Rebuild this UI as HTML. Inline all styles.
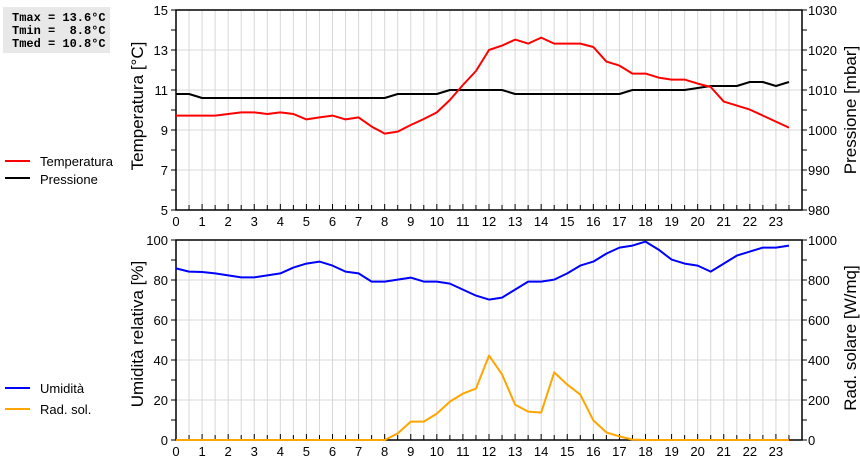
<!DOCTYPE html>
<html><head><meta charset="utf-8"><style>
html,body{margin:0;padding:0;background:#fff;width:860px;height:460px;overflow:hidden}
svg{display:block;font-family:"Liberation Sans",Arial,sans-serif}
</style></head><body>
<svg id="c" width="860" height="460">
<rect x="3" y="7" width="107" height="46" fill="#e8e8e8"/>
<text x="12" y="21" font-family="Liberation Mono,monospace" font-weight="bold" font-size="12" xml:space="preserve">Tmax = 13.6°C</text>
<text x="12" y="34" font-family="Liberation Mono,monospace" font-weight="bold" font-size="12" xml:space="preserve">Tmin =  8.8°C</text>
<text x="12" y="47" font-family="Liberation Mono,monospace" font-weight="bold" font-size="12" xml:space="preserve">Tmed = 10.8°C</text>
<g>
<line x1="5" y1="161" x2="30" y2="161" stroke="#f00" stroke-width="2"/><text x="40" y="166" font-size="13">Temperatura</text>
<line x1="5" y1="178" x2="30" y2="178" stroke="#000" stroke-width="2"/><text x="40" y="184" font-size="13">Pressione</text>
</g>
<g>
<line x1="5" y1="388" x2="30" y2="388" stroke="#00f" stroke-width="2"/><text x="40" y="393" font-size="13">Umidità</text>
<line x1="5" y1="409" x2="30" y2="409" stroke="#ffa500" stroke-width="2"/><text x="40" y="414" font-size="13">Rad. sol.</text>
</g>
<text transform="translate(143,106) rotate(-90)" text-anchor="middle" font-size="17">Temperatura [°C]</text>
<text transform="translate(856,110) rotate(-90)" text-anchor="middle" font-size="17">Pressione [mbar]</text>
<text transform="translate(143,334) rotate(-90)" text-anchor="middle" font-size="17">Umidità relativa [%]</text>
<text transform="translate(856,338) rotate(-90)" text-anchor="middle" font-size="17">Rad. solare [W/mq]</text>
</svg>
<script>
const temp=[9.72,9.72,9.72,9.72,9.8,9.88,9.88,9.8,9.88,9.8,9.53,9.63,9.72,9.53,9.63,9.17,8.82,8.92,9.25,9.55,9.88,10.5,11.25,11.95,13.0,13.22,13.52,13.32,13.62,13.32,13.32,13.32,13.15,12.42,12.22,11.82,11.82,11.62,11.52,11.52,11.32,11.15,10.42,10.22,10.02,9.72,9.42,9.12];
const press=[1009,1009,1008,1008,1008,1008,1008,1008,1008,1008,1008,1008,1008,1008,1008,1008,1008,1009,1009,1009,1009,1010,1010,1010,1010,1010,1009,1009,1009,1009,1009,1009,1009,1009,1009,1010,1010,1010,1010,1010,1010.5,1011,1011,1011,1012,1012,1011,1012];
const hum=[85.8,84.2,84,83.3,82.3,81.3,81.3,82.3,83.3,86.2,88.2,89.2,87.2,84.2,83.3,79.2,79.2,80.2,81.2,79.2,79.2,78.2,75.2,72.2,70.2,71.2,75.2,79.2,79.2,80.2,83.3,87.2,89.2,93.2,96.2,97.2,99.2,95.2,90.2,88.2,87.2,84.2,88.2,92.2,94.2,96.2,96.2,97.2];
const rad=[0,0,0,0,0,0,0,0,0,0,0,0,0,0,0,0,0,33,92,92,132,192,232,257,422,328,177,142,137,338,277,227,98,38,18,2,0,0,0,0,0,0,0,0,0,0,0,0];
const hourLabels=["0","1","2","3","4","5","6","7","8","9","10","11","12","13","14","15","16","17","18","19","20","21","22","23"];
const tempTicks=[5,7,9,11,13,15];
const pressTicks=[980,990,1000,1010,1020,1030];
const humTicks=[0,20,40,60,80,100];
const radTicks=[0,200,400,600,800,1000];
const NS="http://www.w3.org/2000/svg",svg=document.getElementById('c');
const L=176,R=802;
const x=h=>L+(R-L)*h/24;
function mk(t,a,p){const e=document.createElementNS(NS,t);for(const k in a)e.setAttribute(k,a[k]);(p||svg).appendChild(e);return e;}
function panel(top,bot,lmin,lmax,lt,rmin,rmax,rt,name){
 const g=mk('g',{});
 
 
 const yl=v=>bot-(bot-top)*(v-lmin)/(lmax-lmin);
 const yr=v=>bot-(bot-top)*(v-rmin)/(rmax-rmin);
 for(let i=1;i<48;i++)mk('line',{x1:x(i/2),x2:x(i/2),y1:top,y2:bot,stroke:'#d8d8d8','stroke-width':1},g);
 for(let i=1;i<lt.length-1;i++)mk('line',{x1:L,x2:R,y1:yl(lt[i]),y2:yl(lt[i]),stroke:'#d8d8d8','stroke-width':1},g);
 for(let i=0;i<lt.length;i++){
  const t=mk('text',{x:168,y:yl(lt[i])+5,'text-anchor':'end','font-size':13},g);t.textContent=lt[i];
  
  
  mk('line',{x1:171,x2:L,y1:yl(lt[i]),y2:yl(lt[i]),stroke:'#000'},g);
  if(i<lt.length-1){const m=(lt[i]+lt[i+1])/2;mk('line',{x1:171,x2:L,y1:yl(m),y2:yl(m),stroke:'#000'},g);}
 }
 for(let i=0;i<rt.length;i++){
  const t=mk('text',{x:808,y:yr(rt[i])+5,'font-size':13},g);t.textContent=rt[i];
  
  
  mk('line',{x1:R,x2:R+5,y1:yr(rt[i]),y2:yr(rt[i]),stroke:'#000'},g);
  if(i<rt.length-1){const m=(rt[i]+rt[i+1])/2;mk('line',{x1:R,x2:R+5,y1:yr(m),y2:yr(m),stroke:'#000'},g);}
 }
 for(let i=0;i<48;i++)mk('line',{x1:x(i/2),x2:x(i/2),y1:bot,y2:bot-(i%2?5:6),stroke:'#000'},g);
 hourLabels.forEach((l,i)=>{const t=mk('text',{x:x(i),y:bot+16,'text-anchor':'middle','font-size':13},g);t.textContent=l;
  
  });
 mk('rect',{x:L,y:top,width:R-L,height:bot-top,fill:'none',stroke:'#000','stroke-width':1.5},g);
 return {yl,yr};
}
function line(arr,yf,col,name){
 const p=mk('polyline',{points:arr.map((v,i)=>x(i/2)+','+yf(v)).join(' '),fill:'none',stroke:col,'stroke-width':2,'stroke-linejoin':'round'});
 
 
}
const a=panel(10,210,5,15,tempTicks,980,1030,pressTicks,'top-panel');
line(press,a.yr,'#000','pressure-line');
line(temp,a.yl,'#f00','temperature-line');
const b=panel(240,440,0,100,humTicks,0,1000,radTicks,'bottom-panel');
line(rad,b.yr,'#ffa500','radiation-line');
line(hum,b.yl,'#00f','humidity-line');
</script>
</body></html>
